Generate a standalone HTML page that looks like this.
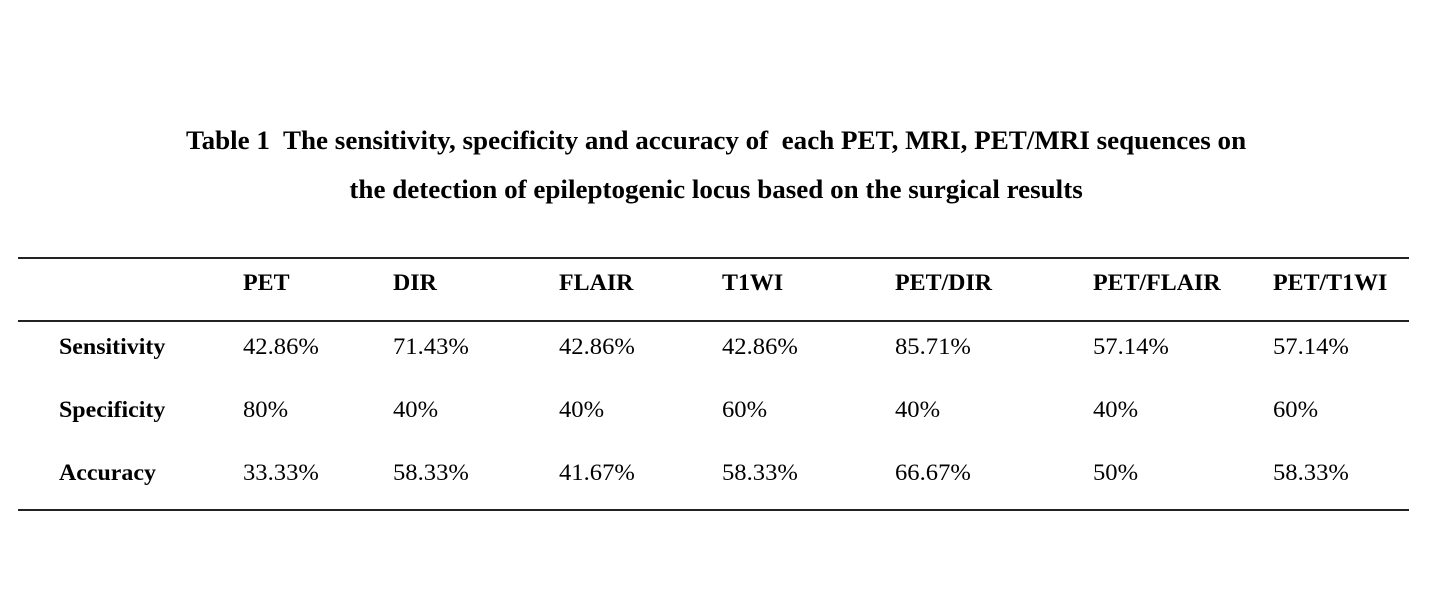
<!DOCTYPE html>
<html><head><meta charset="utf-8"><style>
html,body{margin:0;padding:0;background:#fff;width:1432px;height:610px;overflow:hidden;position:relative;font-family:"Liberation Serif",serif;color:#000}
.t{position:absolute;font-weight:bold;font-size:26px;line-height:26px;white-space:pre;width:1432px;left:0;text-align:center;transform:scaleX(1.04);transform-origin:714px 0}
.c{position:absolute;font-size:23px;line-height:23px;white-space:pre;transform:scaleX(1.07);transform-origin:0 0}
.b{font-weight:bold;transform:scaleX(1.04)}
.r{position:absolute;left:18px;width:1391px;height:1.5px;background:#222}
</style></head><body>
<div class="t" style="top:128px">Table 1  The sensitivity, specificity and accuracy of  each PET, MRI, PET/MRI sequences on</div>
<div class="t" style="top:177px">the detection of epileptogenic locus based on the surgical results</div>
<div class="r" style="top:257px"></div>
<div class="r" style="top:320px"></div>
<div class="r" style="top:509px"></div>

<div class="c b" style="top:271px;left:243px">PET</div>
<div class="c b" style="top:271px;left:393px">DIR</div>
<div class="c b" style="top:271px;left:559px">FLAIR</div>
<div class="c b" style="top:271px;left:722px">T1WI</div>
<div class="c b" style="top:271px;left:895px">PET/DIR</div>
<div class="c b" style="top:271px;left:1093px">PET/FLAIR</div>
<div class="c b" style="top:271px;left:1273px">PET/T1WI</div>

<div class="c b" style="top:335px;left:59px">Sensitivity</div>
<div class="c" style="top:335px;left:243px">42.86%</div>
<div class="c" style="top:335px;left:393px">71.43%</div>
<div class="c" style="top:335px;left:559px">42.86%</div>
<div class="c" style="top:335px;left:722px">42.86%</div>
<div class="c" style="top:335px;left:895px">85.71%</div>
<div class="c" style="top:335px;left:1093px">57.14%</div>
<div class="c" style="top:335px;left:1273px">57.14%</div>

<div class="c b" style="top:398px;left:59px">Specificity</div>
<div class="c" style="top:398px;left:243px">80%</div>
<div class="c" style="top:398px;left:393px">40%</div>
<div class="c" style="top:398px;left:559px">40%</div>
<div class="c" style="top:398px;left:722px">60%</div>
<div class="c" style="top:398px;left:895px">40%</div>
<div class="c" style="top:398px;left:1093px">40%</div>
<div class="c" style="top:398px;left:1273px">60%</div>

<div class="c b" style="top:461px;left:59px">Accuracy</div>
<div class="c" style="top:461px;left:243px">33.33%</div>
<div class="c" style="top:461px;left:393px">58.33%</div>
<div class="c" style="top:461px;left:559px">41.67%</div>
<div class="c" style="top:461px;left:722px">58.33%</div>
<div class="c" style="top:461px;left:895px">66.67%</div>
<div class="c" style="top:461px;left:1093px">50%</div>
<div class="c" style="top:461px;left:1273px">58.33%</div>
</body></html>
